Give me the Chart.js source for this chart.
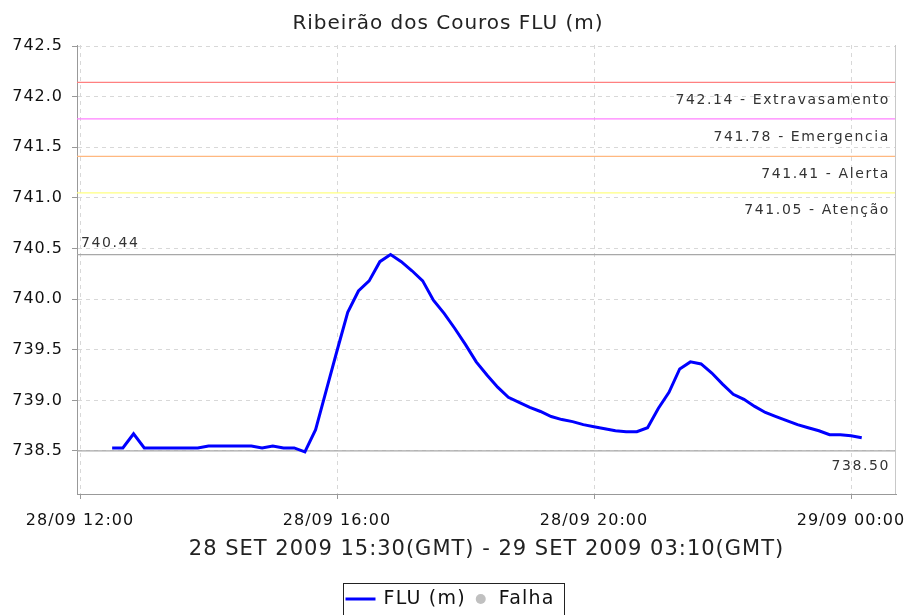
<!DOCTYPE html>
<html>
<head>
<meta charset="utf-8">
<script src="https://cdn.jsdelivr.net/npm/chart.js@4"></script>
<style>
  html, body { margin: 0; padding: 0; background: #fff; }
  #wrap { width: 907px; height: 615px; }
</style>
</head>
<body>
<div id="wrap"><canvas id="myGraph"></canvas></div>
<script>
// series: FLU (m), one reading every 10 minutes, 28/09 12:30 -> 29/09 00:10 (local)
// x is in hours after 28/09 12:00
var startHour = 0.5;
var stepMinutes = 10;
var levels = [
  738.53, 738.53, 738.67, 738.53, 738.53, 738.53, 738.53, 738.53, 738.53, 738.55,
  738.55, 738.55, 738.55, 738.55, 738.53, 738.55, 738.53, 738.53, 738.49, 738.71,
  739.10, 739.49, 739.87, 740.08, 740.18, 740.37, 740.44, 740.37, 740.28, 740.18,
  739.99, 739.86, 739.71, 739.55, 739.38, 739.25, 739.13, 739.03, 738.98, 738.93,
  738.89, 738.84, 738.81, 738.79, 738.76, 738.74, 738.72, 738.70, 738.69, 738.69,
  738.73, 738.92, 739.08, 739.31, 739.38, 739.36, 739.27, 739.16, 739.06, 739.01,
  738.94, 738.88, 738.84, 738.80, 738.76, 738.73, 738.70, 738.66, 738.66, 738.65,
  738.63
];

var thresholdNames = ['Extravasamento', 'Emergencia', 'Alerta', 'Atenção'];
var thresholdValues = [742.14, 741.78, 741.41, 741.05];
var thresholdColors = ['#ff8080', '#ff80ff', '#ffb880', '#ffff80'];

var maxLevel = 740.44;
var minLevel = 738.50;

var xTickHours = [0, 4, 8, 12];
var xTickLabels = ['28/09 12:00', '28/09 16:00', '28/09 20:00', '29/09 00:00'];
var yTicks = [738.5, 739.0, 739.5, 740.0, 740.5, 741.0, 741.5, 742.0, 742.5];

var graphLabel = 'Ribeirão dos Couros FLU (m)';
var axisLabel = '28 SET 2009 15:30(GMT) - 29 SET 2009 03:10(GMT)';
var legendNames = ['FLU (m)', 'Falha'];

var xMin = -0.047, xMax = 12.7;
var yMin = 738.075, yMax = 742.51;

var points = levels.map(function (v, i) {
  return { x: startHour + i * stepMinutes / 60, y: v };
});

function flatLine(v) {
  return [{ x: xMin, y: v }, { x: xMax, y: v }];
}

var datasets = [{
  label: 'FLU (m)',
  data: points,
  borderColor: '#0000ff',
  backgroundColor: '#0000ff',
  borderWidth: 3,
  pointRadius: 0,
  tension: 0
}];
thresholdValues.forEach(function (v, i) {
  datasets.push({
    label: thresholdNames[i],
    data: flatLine(v),
    borderColor: thresholdColors[i],
    borderWidth: 1.2,
    pointRadius: 0
  });
});
datasets.push({ label: 'max', data: flatLine(maxLevel), borderColor: '#a8a8a8', borderWidth: 1.2, pointRadius: 0 });
datasets.push({ label: 'min', data: flatLine(minLevel), borderColor: '#a8a8a8', borderWidth: 1.2, pointRadius: 0 });

// a bit of letter spacing, the original font is wide
var spacing = {
  id: 'spacing',
  beforeUpdate: function (chart) { chart.ctx.letterSpacing = '1px'; },
  beforeDraw: function (chart) { chart.ctx.letterSpacing = '1px'; }
};

// threshold / max / min texts, plot frame, legend
var markText = {
  id: 'markText',
  afterDatasetsDraw: function (chart) {
    var c = chart.ctx, a = chart.chartArea, y = chart.scales.y;
    c.save();
    c.font = '14px "DejaVu Sans"';
    c.letterSpacing = '1.6px';
    c.fillStyle = '#333';
    c.textAlign = 'right';
    c.textBaseline = 'top';
    thresholdValues.forEach(function (v, i) {
      c.fillText(v.toFixed(2) + ' - ' + thresholdNames[i], a.right - 6, y.getPixelForValue(v) + 11);
    });
    c.fillText(minLevel.toFixed(2), a.right - 6, y.getPixelForValue(minLevel) + 8);
    c.textAlign = 'left';
    c.textBaseline = 'bottom';
    c.fillText(maxLevel.toFixed(2), a.left + 4, y.getPixelForValue(maxLevel) - 4);
    c.strokeStyle = '#c8c8c8';
    c.lineWidth = 1;
    c.letterSpacing = '0px';
    c.beginPath();
    c.moveTo(a.right - 0.5, a.top);
    c.lineTo(a.right - 0.5, a.bottom);
    c.stroke();
    c.restore();
  },
  afterDraw: function (chart) {
    var c = chart.ctx;
    c.save();
    c.font = '19px "DejaVu Sans"';
    c.letterSpacing = '1.2px';
    var w1 = c.measureText(legendNames[0]).width;
    var w2 = c.measureText(legendNames[1]).width;
    var total = 2 + 30 + 8 + w1 + 15 + 18 + w2 + 10;
    var left = Math.round((chart.width - total) / 2) + 0.5;
    var yc = 599;
    c.strokeStyle = '#222';
    c.lineWidth = 1;
    c.strokeRect(left, 583.5, Math.round(total), 40);
    var x0 = left + 2;
    c.strokeStyle = '#0000ff';
    c.lineWidth = 3;
    c.beginPath();
    c.moveTo(x0, yc);
    c.lineTo(x0 + 30, yc);
    c.stroke();
    c.fillStyle = '#111';
    c.textBaseline = 'middle';
    c.fillText(legendNames[0], x0 + 38, yc);
    var cx = x0 + 38 + w1 + 15;
    c.fillStyle = '#c0c0c0';
    c.beginPath();
    c.arc(cx, yc, 5, 0, Math.PI * 2);
    c.fill();
    c.fillStyle = '#111';
    c.fillText(legendNames[1], cx + 18, yc);
    c.restore();
  }
};

var ctx = document.getElementById('myGraph');
var myGraph = new Chart(ctx, {
  type: 'line',
  data: { datasets: datasets },
  plugins: [spacing, markText],
  options: {
    responsive: true,
    maintainAspectRatio: false,
    animation: false,
    layout: { padding: { left: 0, right: 11, top: 0, bottom: 45 } },
    plugins: {
      title: {
        display: true,
        text: graphLabel,
        color: '#222',
        font: { family: 'DejaVu Sans', size: 20, weight: 'normal' },
        padding: { top: 12, bottom: 9 }
      },
      legend: { display: false },
      tooltip: { enabled: false }
    },
    scales: {
      x: {
        type: 'linear',
        min: xMin,
        max: xMax,
        afterBuildTicks: function (scale) {
          scale.ticks = xTickHours.map(function (h) { return { value: h }; });
        },
        afterFit: function (scale) {
          scale.height = 76;
          scale.paddingLeft = 0;
          scale.paddingRight = 0;
        },
        ticks: {
          color: '#111',
          font: { family: 'DejaVu Sans', size: 16 },
          padding: 12,
          maxRotation: 0,
          autoSkip: false,
          callback: function (v) {
            var k = xTickHours.indexOf(v);
            return k >= 0 ? xTickLabels[k] : '';
          }
        },
        grid: { color: '#d8d8d8', tickColor: '#999', tickLength: 5 },
        border: { display: true, color: '#999', dash: [4, 4] },
        title: {
          display: true,
          text: axisLabel,
          color: '#222',
          font: { family: 'DejaVu Sans', size: 21 },
          padding: { top: 4, bottom: 8 }
        }
      },
      y: {
        type: 'linear',
        min: yMin,
        max: yMax,
        afterBuildTicks: function (scale) {
          scale.ticks = yTicks.map(function (v) { return { value: v }; });
        },
        afterFit: function (scale) {
          scale.width = 77;
          scale.paddingTop = 0;
          scale.paddingBottom = 0;
        },
        ticks: {
          color: '#111',
          font: { family: 'DejaVu Sans', size: 16 },
          padding: 9,
          callback: function (v) { return v.toFixed(1); }
        },
        grid: { color: '#d8d8d8', tickColor: '#999', tickLength: 5 },
        border: { display: true, color: '#999', dash: [4, 4] }
      }
    }
  }
});
</script>
</body>
</html>
